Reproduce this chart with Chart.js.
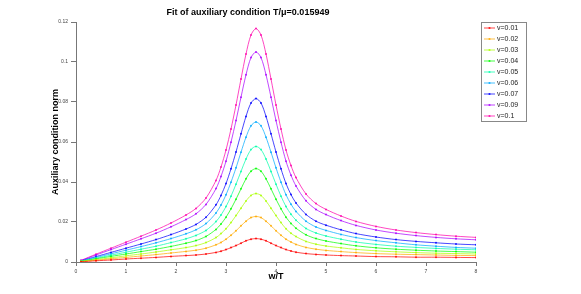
<!DOCTYPE html>
<html>
<head>
<meta charset="utf-8">
<script src="https://cdn.jsdelivr.net/npm/chart.js@4.4.0/dist/chart.umd.min.js"></script>
<style>
  html, body { margin: 0; padding: 0; background: #fff; }
  #wrap { width: 581px; height: 294px; }
</style>
</head>
<body>
<div id="wrap"><canvas id="chart" width="581" height="294"></canvas></div>
<script>
const titleText = "Fit of auxiliary condition T/\u03bc=0.015949";
const xTitle = "w/T";
const yTitle = "Auxiliary condition norm";

const xs = [0.1, 0.4, 0.7, 1.0, 1.3, 1.6, 1.9, 2.2, 2.4, 2.6, 2.8, 2.9, 3.0, 3.1, 3.2, 3.3, 3.4, 3.5, 3.6,
    3.7, 3.8, 3.9, 4.0, 4.1, 4.2, 4.3, 4.4, 4.6, 4.8, 5.0, 5.3, 5.6, 6.0, 6.4, 6.8, 7.2, 7.6, 8.0];

const seriesLabels = ["v=0.01", "v=0.02", "v=0.03", "v=0.04", "v=0.05", "v=0.06", "v=0.07", "v=0.09", "v=0.1"];
const seriesColors = ["255,0,0", "255,170,0", "170,255,0", "0,255,0", "0,255,170", "0,170,255", "0,0,255", "170,0,255", "255,0,170"];

const v001 = [0.0001, 0.0006, 0.0010, 0.0015, 0.0019, 0.0023, 0.0028, 0.0032, 0.0035, 0.0040, 0.0048, 0.0054, 0.0062,
    0.0072, 0.0082, 0.0094, 0.0106, 0.0114, 0.0117, 0.0114, 0.0106, 0.0094, 0.0082, 0.0072, 0.0062, 0.0055, 0.0049,
    0.0042, 0.0038, 0.0035, 0.0032, 0.0030, 0.0027, 0.0026, 0.0024, 0.0024, 0.0023, 0.0022];
const v002 = [0.0002, 0.0009, 0.0016, 0.0023, 0.0030, 0.0037, 0.0045, 0.0053, 0.0059, 0.0069, 0.0086, 0.0098, 0.0114,
    0.0134, 0.0156, 0.0181, 0.0204, 0.0222, 0.0228, 0.0222, 0.0204, 0.0181, 0.0156, 0.0134, 0.0114, 0.0100, 0.0088,
    0.0073, 0.0064, 0.0058, 0.0052, 0.0047, 0.0042, 0.0039, 0.0037, 0.0035, 0.0033, 0.0032];
const v003 = [0.0003, 0.0012, 0.0021, 0.0031, 0.0040, 0.0050, 0.0061, 0.0072, 0.0082, 0.0097, 0.0122, 0.0142, 0.0166,
    0.0197, 0.0232, 0.0269, 0.0305, 0.0333, 0.0342, 0.0333, 0.0305, 0.0269, 0.0232, 0.0197, 0.0166, 0.0144, 0.0127,
    0.0103, 0.0089, 0.0080, 0.0071, 0.0063, 0.0056, 0.0051, 0.0047, 0.0044, 0.0042, 0.0040];
const v004 = [0.0003, 0.0016, 0.0028, 0.0040, 0.0052, 0.0064, 0.0078, 0.0094, 0.0107, 0.0128, 0.0163, 0.0190, 0.0224,
    0.0266, 0.0314, 0.0366, 0.0416, 0.0454, 0.0467, 0.0454, 0.0416, 0.0366, 0.0314, 0.0266, 0.0224, 0.0193, 0.0169,
    0.0136, 0.0117, 0.0105, 0.0092, 0.0081, 0.0071, 0.0064, 0.0059, 0.0055, 0.0052, 0.0049];
const v005 = [0.0004, 0.0019, 0.0034, 0.0049, 0.0064, 0.0079, 0.0097, 0.0116, 0.0133, 0.0158, 0.0202, 0.0235, 0.0277,
    0.0329, 0.0389, 0.0453, 0.0515, 0.0562, 0.0578, 0.0562, 0.0515, 0.0453, 0.0389, 0.0329, 0.0277, 0.0239, 0.0209,
    0.0168, 0.0145, 0.0130, 0.0114, 0.0100, 0.0088, 0.0079, 0.0073, 0.0068, 0.0064, 0.0061];
const v006 = [0.0005, 0.0023, 0.0041, 0.0059, 0.0077, 0.0096, 0.0117, 0.0141, 0.0161, 0.0192, 0.0245, 0.0285, 0.0336,
    0.0399, 0.0471, 0.0549, 0.0624, 0.0681, 0.0700, 0.0681, 0.0624, 0.0549, 0.0471, 0.0399, 0.0336, 0.0289, 0.0253,
    0.0204, 0.0175, 0.0158, 0.0138, 0.0122, 0.0107, 0.0096, 0.0086, 0.0079, 0.0073, 0.0069];
const v007 = [0.0006, 0.0027, 0.0048, 0.0069, 0.0090, 0.0112, 0.0137, 0.0165, 0.0188, 0.0224, 0.0286, 0.0333, 0.0392,
    0.0466, 0.0550, 0.0641, 0.0728, 0.0795, 0.0817, 0.0795, 0.0728, 0.0641, 0.0550, 0.0466, 0.0392, 0.0337, 0.0295,
    0.0238, 0.0204, 0.0184, 0.0161, 0.0142, 0.0125, 0.0112, 0.0103, 0.0096, 0.0090, 0.0086];
const v009 = [0.0007, 0.0035, 0.0062, 0.0089, 0.0116, 0.0144, 0.0176, 0.0212, 0.0241, 0.0288, 0.0367, 0.0428, 0.0504,
    0.0599, 0.0707, 0.0824, 0.0936, 0.1022, 0.1050, 0.1022, 0.0936, 0.0824, 0.0707, 0.0599, 0.0504, 0.0434, 0.0380,
    0.0306, 0.0263, 0.0237, 0.0207, 0.0183, 0.0160, 0.0144, 0.0132, 0.0123, 0.0116, 0.0111];
const v010 = [0.0008, 0.0039, 0.0069, 0.0099, 0.0129, 0.0160, 0.0195, 0.0235, 0.0268, 0.0320, 0.0408, 0.0475, 0.0560,
    0.0665, 0.0785, 0.0915, 0.1040, 0.1135, 0.1167, 0.1135, 0.1040, 0.0915, 0.0785, 0.0665, 0.0560, 0.0482, 0.0422,
    0.0340, 0.0292, 0.0263, 0.0230, 0.0203, 0.0178, 0.0160, 0.0147, 0.0137, 0.0129, 0.0123];

const seriesValues = [v001, v002, v003, v004, v005, v006, v007, v009, v010];

const yTicks = [0, 0.02, 0.04, 0.06, 0.08, 0.1, 0.12];
const xTicks = [0, 1, 2, 3, 4, 5, 6, 7, 8];

const axisColor = "#777";
const tickFont = { family: "Liberation Sans, Arial, sans-serif", size: 5 };
const labelFont = { family: "Liberation Sans, Arial, sans-serif", size: 9, weight: "bold" };

const datasets = seriesValues.map((vals, i) => ({
    label: seriesLabels[i],
    data: vals.map((y, j) => ({ x: xs[j], y: y })),
    borderColor: "rgba(" + seriesColors[i] + ",0.72)",
    backgroundColor: "rgba(" + seriesColors[i] + ",0.85)",
    borderWidth: 1,
    pointRadius: 1,
    pointBorderWidth: 0,
    pointHoverRadius: 1,
    tension: 0.3,
    fill: false
}));

// title + boxed legend, drawn straight onto the canvas
const extras = {
    id: "extras",
    afterDraw(c) {
        const ctx = c.ctx;
        ctx.save();
        ctx.fillStyle = "#000";
        ctx.font = "bold 9px 'Liberation Sans', Arial, sans-serif";
        ctx.textAlign = "center";
        ctx.textBaseline = "middle";
        ctx.fillText(titleText, 248, 13);

        // legend
        const lx = 481, ly = 22.5, lw = 45, lh = 99;
        ctx.strokeStyle = "#888";
        ctx.lineWidth = 1;
        ctx.strokeRect(lx + 0.5, ly, lw, lh);
        ctx.font = "7px 'Liberation Sans', Arial, sans-serif";
        ctx.textAlign = "left";
        c.data.datasets.forEach((ds, i) => {
            const y = 28 + i * 11;
            ctx.strokeStyle = ds.borderColor;
            ctx.beginPath();
            ctx.moveTo(lx + 3, y);
            ctx.lineTo(lx + 14, y);
            ctx.stroke();
            ctx.fillStyle = ds.backgroundColor;
            ctx.beginPath();
            ctx.arc(lx + 8.5, y, 1.1, 0, Math.PI * 2);
            ctx.fill();
            ctx.fillStyle = "#222";
            ctx.fillText(ds.label, lx + 16, y + 0.5);
        });
        ctx.restore();
    }
};

chart = new Chart(document.getElementById("chart"), {
    type: "line",
    data: { datasets: datasets },
    options: {
        responsive: false,
        animation: false,
        layout: { padding: { top: 22, right: 105, bottom: 0, left: 0 } },
        plugins: {
            legend: { display: false },
            title: { display: false },
            tooltip: { enabled: false }
        },
        scales: {
            x: {
                type: "linear",
                min: 0,
                max: 8,
                afterFit: s => { s.height = 32; },
                afterBuildTicks: s => { s.ticks = xTicks.map(v => ({ value: v })); },
                border: { color: axisColor, width: 1 },
                grid: { drawOnChartArea: false, drawTicks: true, tickLength: 4, color: axisColor },
                ticks: { font: tickFont, color: "#444", padding: 3, maxRotation: 0 },
                title: { display: true, text: xTitle, font: labelFont, color: "#000", padding: { top: 0, bottom: 12 } }
            },
            y: {
                min: 0,
                max: 0.12,
                afterFit: s => { s.width = 76; },
                afterBuildTicks: s => { s.ticks = yTicks.map(v => ({ value: v })); },
                border: { color: axisColor, width: 1 },
                grid: { drawOnChartArea: false, drawTicks: true, tickLength: 5, color: axisColor },
                ticks: {
                    font: tickFont,
                    color: "#444",
                    padding: 3,
                    callback: v => String(+v.toFixed(2))
                },
                title: { display: true, text: yTitle, font: labelFont, color: "#000", padding: { top: 50, bottom: 0 } }
            }
        }
    },
    plugins: [extras]
});
</script>
</body>
</html>
